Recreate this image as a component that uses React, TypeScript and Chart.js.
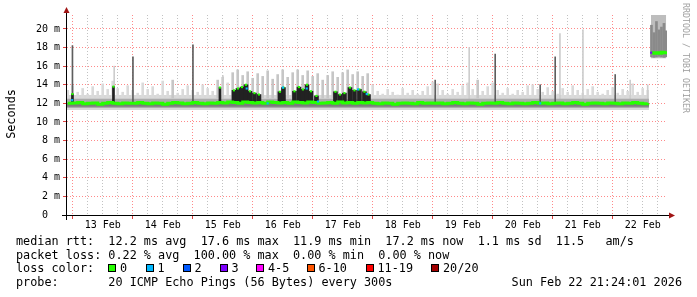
import { useEffect, useRef } from 'react';
import { Chart, registerables } from 'chart.js';

Chart.register(...registerables);

// ---------- axis ranges (x = hours since 13 Feb 00:00, y = milliseconds) ----------
const X_MIN = -2.28;
const X_MAX = 237.72;
const Y_MIN = 0;
const Y_MAX = 21.5;
const GRID_STEP_H = 6;

const dayLabels = ['13 Feb', '14 Feb', '15 Feb', '16 Feb', '17 Feb', '18 Feb', '19 Feb', '20 Feb', '21 Feb', '22 Feb'];
const yTickValues = [0, 1, 2, 3, 4, 5, 6, 7, 8, 9, 10, 11, 12, 13, 14, 15, 16, 17, 18, 19, 20, 21];
const yTickLabels = ['0  ', '2 m', '4 m', '6 m', '8 m', '10 m', '12 m', '14 m', '16 m', '18 m', '20 m'];

// ---------- main segment, 2-hour bins starting at BIN_START ----------
const BIN_START = -2;
const BIN_STEP = 2;

const medianRtt = [
  12.0,
  12.05, 12.1, 11.95, 12.0, 12.05, 11.9, 12.0, 12.1, 12.0, 11.95, 12.05, 12.0,
  12.0, 12.1, 12.0, 11.95, 12.05, 12.0, 11.9, 12.0, 12.1, 12.05, 11.95, 12.0,
  12.1, 12.0, 11.95, 12.05, 12.0, 12.1, 12.05, 12.15, 12.1, 12.0, 12.15, 12.1,
  12.05, 12.1, 12.0, 12.15, 12.1, 12.05, 12.1, 12.0, 12.15, 12.1, 12.05, 12.15,
  12.1, 12.0, 12.05, 12.1, 12.0, 12.15, 12.05, 12.1, 12.0, 12.1, 12.05, 12.1,
  12.0, 11.95, 12.05, 12.0, 11.9, 12.0, 12.05, 12.0, 11.95, 12.1, 12.0, 12.05,
  12.0, 12.05, 11.95, 12.0, 12.1, 12.0, 11.95, 12.05, 12.0, 11.9, 12.0, 12.05,
  12.0, 12.1, 12.0, 11.95, 12.05, 12.0, 11.95, 12.0, 12.1, 12.0, 12.05, 11.95,
  12.0, 12.05, 11.95, 12.0, 12.1, 12.0, 11.9, 12.0, 12.05, 12.0, 11.95, 12.05,
  12.0, 11.95, 12.05, 12.0, 12.1, 12.0, 11.95, 12.0,
];

const smokeTop = [
  13.4,
  13.9, 13.2, 13.6, 13.0, 13.8, 13.3, 14.1, 13.5, 14.4, 13.6, 13.2, 13.9,
  13.4, 13.1, 14.2, 13.5, 13.8, 13.0, 14.4, 13.3, 14.5, 13.1, 13.5, 13.9,
  13.4, 13.2, 14.0, 13.6, 13.3, 14.5, 14.8, 14.2, 15.3, 15.6, 15.0, 15.4,
  14.7, 15.2, 14.9, 15.5, 14.6, 15.1, 15.6, 14.8, 15.3, 15.6, 15.0, 15.5,
  14.9, 15.2, 14.5, 15.0, 15.4, 14.8, 15.3, 15.6, 15.1, 15.4, 14.9, 15.2,
  14.0, 13.3, 13.0, 13.5, 13.2, 12.9, 13.6, 13.1, 13.4, 13.0, 13.3, 13.8,
  14.3, 14.1, 13.4, 13.0, 13.5, 13.2, 13.9, 14.2, 13.5, 14.5, 13.3, 13.8,
  14.2, 13.4, 13.1, 13.6, 13.0, 13.4, 13.2, 13.9, 14.0, 13.5, 13.2, 13.7,
  13.3, 13.0, 13.6, 13.2, 13.9, 13.4, 13.1, 13.5, 13.8, 13.2, 13.0, 13.4,
  13.7, 13.1, 13.5, 13.3, 14.1, 13.2, 13.6, 13.4,
];
const SMOKE_BASE = 12.6;

// constant smoke bands around the median (main segment)
const bandHours = [-2.3, 230.5];
const outerLow = [11.3, 11.3];
const outerHigh = [12.9, 12.9];
const midLow = [11.5, 11.5];
const midHigh = [12.5, 12.5];
const innerLow = [11.65, 11.65];
const innerHigh = [12.05, 12.05];

// dense dark cores (15-17 Feb)
const coreHours = [64.5, 66.1, 67.7, 69.3, 70.9, 72.7, 74.5, 82.9, 84.3, 88.7, 90.5, 92.1, 93.7, 95.3, 97.5, 105.1, 106.9, 108.7, 110.9, 112.7, 114.7, 116.7, 118.3];
const coreTops = [13.4, 13.6, 13.75, 14.0, 13.3, 13.1, 12.95, 13.25, 13.7, 13.3, 13.75, 13.5, 14.0, 13.3, 12.8, 13.25, 12.95, 13.1, 13.7, 13.4, 13.5, 13.25, 12.95];
const CORE_BASE = 12.1;
const isoHours = [-0.1, 16.3, 58.9];
const isoTops = [13.0, 13.8, 13.7];

// single tall spikes
const darkSpikeHours = [-0.1, 24.1, 48.1, 145.0, 169.0, 187.0, 193.0, 217.0];
const darkSpikeTops = [18.2, 17.0, 18.3, 14.5, 17.3, 14.0, 17.0, 15.1];
const lightSpikeHours = [16.6, 60.1, 158.6, 194.9, 204.1, 223.0, 230.0];
const lightSpikeTops = [16.0, 15.0, 18.0, 19.5, 19.9, 14.5, 14.0];
const SPIKE_BASE = 12.0;

// loss-coloured median marks
const lossHours = [-0.2, 69.6, 78.0, 84.1, 93.6, 98.1, 114.1, 117.6, 187.0, 231.4];
const lossValues = [12.35, 13.6, 12.0, 13.7, 13.6, 12.2, 13.5, 13.0, 12.0, 17.45];
const lossClass = [1, 1, 1, 1, 1, 1, 1, 1, 1, 3];

// last segment after the gap
const lateHours = [231.5, 232.5, 233.5, 234.5, 235.5, 236.5, 237.3];
const lateMedian = [17.45, 17.4, 17.45, 17.4, 17.5, 17.45, 17.6];
const lateCoreLow = [17.0, 16.95, 17.0, 17.05, 17.0, 16.95, 17.0];
const lateCoreHigh = [20.4, 19.6, 20.8, 19.9, 20.2, 20.6, 19.8];
const lateBandHours = [231.3, 237.4];
const lateBandLow = [16.85, 16.85];
const lateBandHigh = [21.6, 21.6];

// ---------- legend ----------
const lossLabels = ['0', '1', '2', '3', '4-5', '6-10', '11-19', '20/20'];
const lossColors = ['#26ff00', '#00b8ff', '#0059ff', '#7e00ff', '#ff00ff', '#ff5500', '#ff0000', '#a10000'];
const medianLine = 'median rtt:  12.2 ms avg  17.6 ms max  11.9 ms min  17.2 ms now  1.1 ms sd  11.5   am/s';
const lossLine = 'packet loss: 0.22 % avg  100.00 % max  0.00 % min  0.00 % now';
const lossColorTitle = 'loss color:';
const probeLine = 'probe:       20 ICMP Echo Pings (56 Bytes) every 300s';
const stampText = 'Sun Feb 22 21:24:01 2026';

// layout positions (pixels)
const boxX = [108, 145.5, 182.5, 219.5, 256, 306.5, 365.5, 431];

const MAJOR = 'rgba(255, 40, 40, 0.55)';
const MINOR = 'rgba(120, 120, 120, 0.45)';
const MONO = '"DejaVu Sans Mono", monospace';

const pts = (xs: number[], ys: (number | null)[]) => xs.map((x, i) => ({ x, y: ys[i] }));
const floats = (xs: number[], lo: number[] | number, hi: number[]) =>
  xs.map((x, i) => ({ x, y: [Array.isArray(lo) ? lo[i] : lo, hi[i]] }));

const axesPlugin = {
  id: 'rrdAxes',
  afterDraw(chart: any) {
    const { ctx, chartArea: a } = chart;
    ctx.save();
    ctx.strokeStyle = '#000';
    ctx.lineWidth = 1;
    ctx.beginPath();
    ctx.moveTo(a.left - 5, a.bottom + 0.5);
    ctx.lineTo(a.right + 3, a.bottom + 0.5);
    ctx.moveTo(a.left - 0.5, a.bottom + 5);
    ctx.lineTo(a.left - 0.5, a.top - 2);
    ctx.stroke();
    ctx.fillStyle = '#a01414';
    ctx.beginPath();
    ctx.moveTo(a.right + 2, a.bottom + 0.5 - 3);
    ctx.lineTo(a.right + 8, a.bottom + 0.5);
    ctx.lineTo(a.right + 2, a.bottom + 0.5 + 3);
    ctx.closePath();
    ctx.fill();
    ctx.beginPath();
    ctx.moveTo(a.left - 0.5 - 3, a.top - 2);
    ctx.lineTo(a.left - 0.5, a.top - 8);
    ctx.lineTo(a.left - 0.5 + 3, a.top - 2);
    ctx.closePath();
    ctx.fill();
    ctx.restore();
  },
};

export default function App() {
  const ref = useRef<HTMLCanvasElement | null>(null);

  useEffect(() => {
    document.body.style.margin = '0';
    const canvas = ref.current;
    if (!canvas) return;

    const binHours = medianRtt.map((_, i) => BIN_START + i * BIN_STEP);
    const gridHours: number[] = [];
    for (let h = 0; h <= X_MAX; h += GRID_STEP_H) gridHours.push(h);

    const medianData = [
      ...pts(binHours, medianRtt),
      { x: (binHours[binHours.length - 1] + lateHours[0]) / 2, y: null },
      ...pts(lateHours, lateMedian),
    ];

    const bandLine = (xs: number[], ys: number[], fill: any, color: string, order: number) => ({
      type: 'line',
      data: pts(xs, ys),
      borderWidth: 0,
      pointRadius: 0,
      fill,
      backgroundColor: color,
      borderColor: 'rgba(0,0,0,0)',
      order,
    });

    const barSet = (data: any[], color: any, thickness: number, order: number) => ({
      type: 'bar',
      data,
      backgroundColor: color,
      borderWidth: 0,
      barThickness: thickness,
      grouped: false,
      order,
    });

    const datasets: any[] = [
      bandLine(bandHours, outerLow, false, 'rgba(0,0,0,0)', 30),
      bandLine(bandHours, outerHigh, '-1', '#d8d8d8', 30),
      bandLine(lateBandHours, lateBandLow, false, 'rgba(0,0,0,0)', 30),
      bandLine(lateBandHours, lateBandHigh, '-1', '#bdbdbd', 30),
      barSet(floats(binHours, SMOKE_BASE, smokeTop), (c: any) => (c.raw && c.raw.y[1] > 14.4 ? '#c6c6c6' : '#dadada'), 2, 28),
      barSet(floats(lightSpikeHours, SPIKE_BASE, lightSpikeTops), '#cdcdcd', 1, 27),
      bandLine(bandHours, midLow, false, 'rgba(0,0,0,0)', 26),
      bandLine(bandHours, midHigh, '-1', '#ababab', 26),
      bandLine(bandHours, innerLow, false, 'rgba(0,0,0,0)', 25),
      bandLine(bandHours, innerHigh, '-1', '#7c7c7c', 25),
      barSet(floats(lateHours, lateCoreLow, lateCoreHigh), '#8a8a8a', 2, 24),
      barSet(floats(darkSpikeHours, SPIKE_BASE, darkSpikeTops), '#5e5e5e', 1, 23),
      barSet(floats(coreHours, CORE_BASE, coreTops), '#222222', 4, 22),
      barSet(floats(isoHours, CORE_BASE, isoTops), '#222222', 2, 22),
      {
        type: 'line',
        data: medianData,
        borderColor: lossColors[0],
        borderWidth: 3,
        stepped: true,
        pointRadius: 0,
        fill: false,
        spanGaps: false,
        order: 2,
      },
      {
        type: 'scatter',
        data: [...pts(coreHours, coreTops), ...pts(isoHours, isoTops)],
        pointStyle: 'rect',
        pointRadius: 1.5,
        borderWidth: 0,
        backgroundColor: lossColors[0],
        order: 1,
      },
      {
        type: 'scatter',
        data: pts(lossHours, lossValues),
        pointStyle: 'rect',
        pointRadius: 1.5,
        borderWidth: 0,
        backgroundColor: (c: any) => lossColors[lossClass[c.dataIndex] ?? 0],
        order: 0,
      },
    ];

    const tickFont = { family: MONO, size: 10 };

    const chart = new Chart(canvas, {
      type: 'bar',
      data: { datasets },
      plugins: [axesPlugin],
      options: {
        animation: false,
        responsive: false,
        devicePixelRatio: 1,
        events: [],
        layout: { padding: { left: 0, top: 15, right: 30, bottom: 62 } },
        plugins: { legend: { display: false }, tooltip: { enabled: false } },
        scales: {
          x: {
            type: 'linear',
            min: X_MIN,
            max: X_MAX,
            offset: false,
            afterBuildTicks: (s: any) => {
              s.ticks = gridHours.map((v) => ({ value: v }));
            },
            afterFit: (s: any) => {
              s.height = 20;
            },
            grid: {
              offset: false,
              color: (c: any) => (c.tick ? (c.tick.value % 24 === 0 ? MAJOR : MINOR) : 'rgba(0,0,0,0)'),
              tickColor: (c: any) => (c.tick && c.tick.value % 24 === 0 ? '#e04040' : 'rgba(0,0,0,0)'),
              lineWidth: 1,
              tickLength: 4,
            },
            border: { display: false, dash: [1, 2] },
            ticks: {
              autoSkip: false,
              maxRotation: 0,
              minRotation: 0,
              padding: 0,
              color: '#000',
              font: tickFont,
              callback: (v: any) => {
                const m = ((v % 24) + 24) % 24;
                return m === 12 ? dayLabels[(v - 12) / 24] ?? '' : '';
              },
            },
          },
          y: {
            type: 'linear',
            min: Y_MIN,
            max: Y_MAX,
            afterBuildTicks: (s: any) => {
              s.ticks = yTickValues.map((v) => ({ value: v }));
            },
            afterFit: (s: any) => {
              s.width = 67;
            },
            grid: {
              color: (c: any) => (c.tick ? (c.tick.value % 2 === 0 ? MAJOR : MINOR) : 'rgba(0,0,0,0)'),
              tickColor: (c: any) => (c.tick && c.tick.value % 2 === 0 ? '#e04040' : 'rgba(160,160,160,0.7)'),
              lineWidth: 1,
              tickLength: 4,
            },
            border: { display: false, dash: [1, 2] },
            ticks: {
              padding: 3,
              color: '#000',
              font: tickFont,
              callback: (v: any) => (v % 2 === 0 ? yTickLabels[v / 2] ?? '' : ''),
            },
          },
        },
      } as any,
    });

    return () => chart.destroy();
  }, []);

  const text: any = {
    position: 'absolute',
    whiteSpace: 'pre',
    fontFamily: MONO,
    fontSize: '11.8px',
    lineHeight: '14px',
    color: '#000',
  };

  return (
    <div style={{ position: 'relative', width: 697, height: 297, background: '#fff', overflow: 'hidden' }}>
      <canvas ref={ref} width={697} height={297} style={{ position: 'absolute', left: 0, top: 0 }} />
      <div style={{ ...text, left: -19, top: 106.5, width: 60, height: 14, textAlign: 'center', transform: 'rotate(-90deg)' }}>Seconds</div>
      <div
        style={{
          ...text,
          fontSize: '8.3px',
          lineHeight: '10px',
          color: '#a0a0a0',
          left: 626.2,
          top: 53,
          width: 120,
          height: 10,
          textAlign: 'center',
          transform: 'rotate(90deg)',
        }}
      >
        RRDTOOL / TOBI OETIKER
      </div>

      <div style={{ ...text, left: 16, top: 234 }}>{medianLine}</div>
      <div style={{ ...text, left: 16, top: 248 }}>{lossLine}</div>
      <div style={{ ...text, left: 16, top: 261 }}>{lossColorTitle}</div>
      {lossLabels.map((s, i) => (
        <div key={'c' + i}>
          <div
            style={{
              position: 'absolute',
              left: boxX[i],
              top: 264,
              width: 8,
              height: 8,
              boxSizing: 'border-box',
              border: '1px solid #000',
              background: lossColors[i],
            }}
          />
          <div style={{ ...text, left: boxX[i] + 12, top: 261 }}>{s}</div>
        </div>
      ))}
      <div style={{ ...text, left: 16, top: 275 }}>{probeLine}</div>
      <div style={{ ...text, right: 15, top: 275 }}>{stampText}</div>
    </div>
  );
}
